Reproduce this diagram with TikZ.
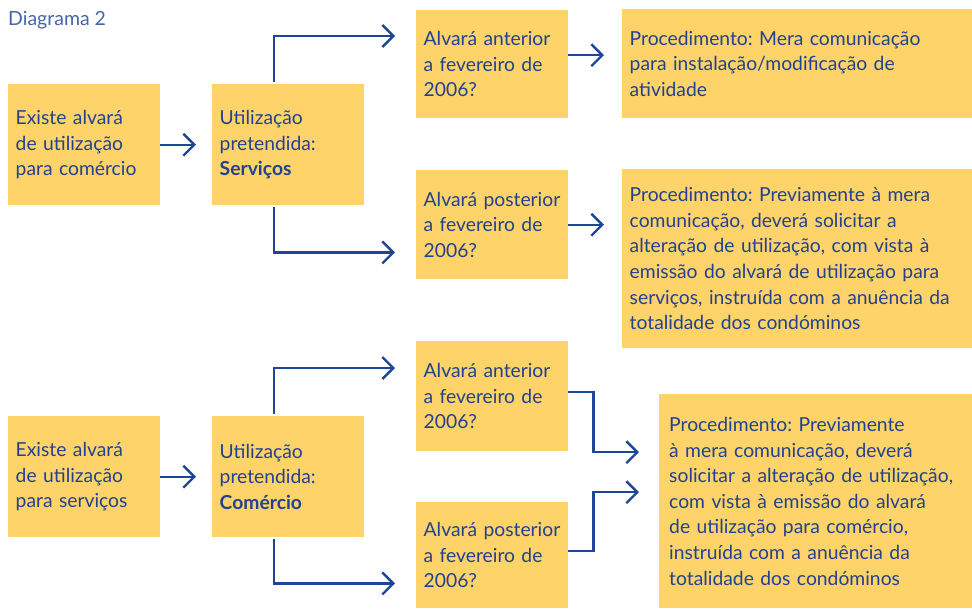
\documentclass[tikz,border=0pt]{standalone}
\usepackage{fontspec}
\setmainfont{Lato}
\usetikzlibrary{arrows.meta,calc}
\definecolor{boxy}{HTML}{FDD36A}
\definecolor{txtb}{HTML}{22428F}
\definecolor{ttl}{HTML}{4565A8}
\definecolor{arrb}{HTML}{1D4796}
\frenchspacing
\hyphenpenalty=10000
\exhyphenpenalty=10000
\tikzset{
  box/.style={fill=boxy, draw=none, anchor=north west, inner xsep=7.5pt, inner ysep=0pt,
    align=left, text=txtb, font=\fontsize{19.3}{25.6}\selectfont},
  arr/.style={draw=arrb, line width=2.4pt, line join=miter,
    -{Straight Barb[length=11pt,width=22pt,line join=miter]}}
}
\newcommand{\bx}[6]{% name, x0,y0,x1,y1, text
  \node[box, minimum width={(#4-#2)*1pt}, minimum height={(#5-#3)*1pt},
        text width={(#4-#2-15)*1pt}] (#1) at (#2pt,-#3pt) {#6};}
\begin{document}
\begin{tikzpicture}
\useasboundingbox (0,0) rectangle (972pt,-608pt);
\node[anchor=west, text=ttl, font=\fontsize{19.5}{22}\selectfont, inner sep=0pt] (title) at (8pt,-20pt) {Diagrama 2};
\bx{a1}{8}{84}{160}{205}{Existe alvará\\de utilização\\para comércio}
\bx{b1}{212}{84}{364}{205}{Utilização\\pretendida:\\\textbf{Serviços}}
\bx{c1}{416}{10}{568}{118}{Alvará anterior\\a fevereiro de\\2006?}
\bx{d1}{622}{9}{972}{118}{Procedimento: Mera comunicação\\para instalação/modificação de\\atividade}
\bx{c2}{416}{170}{568}{279}{Alvará posterior\\a fevereiro de\\2006?}
\bx{d2}{622}{169}{972}{348}{Procedimento: Previamente à mera\\comunicação, deverá solicitar a\\alteração de utilização, com vista à\\emissão do alvará de utilização para\\serviços, instruída com a anuência da\\totalidade dos condóminos}
\bx{a2}{8}{416}{160}{537}{Existe alvará\\de utilização\\para serviços}
\bx{b2}{212}{416}{364}{537}{Utilização\\pretendida:\\\textbf{Comércio}}
\bx{c3}{416}{341}{568}{451}{Alvará anterior\\a fevereiro de\\2006?}
\bx{c4}{416}{502}{568}{608}{Alvará posterior\\a fevereiro de\\2006?}
\node[box, minimum width=313pt, minimum height=214pt, text width=293pt, inner xsep=10pt] (d3) at (659pt,-394pt) {Procedimento: Previamente\\à mera comunicação, deverá\\solicitar a alteração de utilização,\\com vista à emissão do alvará\\de utilização para comércio,\\instruída com a anuência da\\totalidade dos condóminos};
% connectors
\draw[arr] (a1.east) -- ([xshift=-16pt]b1.west);
\draw[arr] (a2.east) -- ([xshift=-16pt]b2.west);
\draw[arr] ([xshift=-14pt,yshift=2pt]b1.north) |- ([xshift=-21pt,yshift=-26pt]c1.north west);
\draw[arr] ([xshift=-14pt,yshift=-2pt]b1.south) |- ([xshift=-21pt,yshift=27pt]c2.south west);
\draw[arr] ([xshift=-14pt,yshift=2pt]b2.north) |- ([xshift=-21pt,yshift=-27pt]c3.north west);
\draw[arr] ([xshift=-14pt,yshift=-2pt]b2.south) |- ([xshift=-21pt,yshift=25pt]c4.south west);
\coordinate (q1) at ([xshift=-18pt]d1.west);
\draw[arr] ([yshift=9pt]c1.east) -- ([yshift=9pt]c1.east -| q1);
\draw[arr] (c2.east) -- (c2.east -| q1);
\draw[arr] ([yshift=4pt]c3.east) -- ++(25pt,0) |- ([xshift=-20pt,yshift=49pt]d3.west);
\draw[arr] ([yshift=4pt]c4.east) -- ++(25pt,0) |- ([xshift=-20pt,yshift=9pt]d3.west);
\end{tikzpicture}
\end{document}
